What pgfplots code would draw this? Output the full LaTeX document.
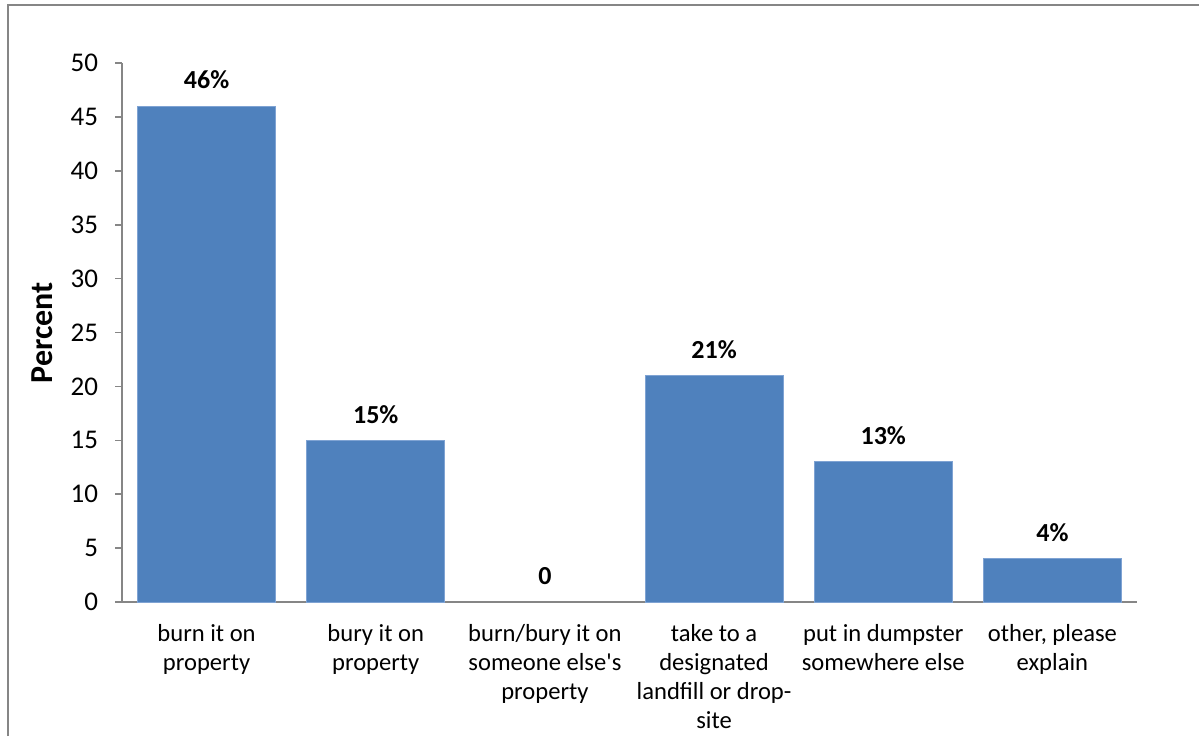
\documentclass[border=0pt]{standalone}
\usepackage{fontspec}
\setmainfont{Carlito}
\usepackage{pgfplots}
\pgfplotsset{compat=1.18}
\definecolor{barblue}{HTML}{4F81BD}
\definecolor{baredge}{HTML}{7FA3D3}
\definecolor{axgray}{HTML}{868686}
\begin{document}
\begin{tikzpicture}
\useasboundingbox (0,0) rectangle (599.5pt,368pt);
\draw[axgray,line width=0.9pt] (4pt,0) -- (4pt,365.5pt) -- (599.5pt,365.5pt);
\begin{axis}[
  at={(61pt,67pt)}, anchor=south west,
  scale only axis, width=507.5pt, height=269.5pt,
  xmin=-0.5, xmax=5.5, ymin=0, ymax=50,
  axis lines*=left,
  axis line style={axgray,line width=0.8pt},
  every tick/.style={axgray,line width=0.8pt},
  tick align=outside,
  major tick length=3.5pt,
  ytick={0,5,...,50},
  xtick={0,...,5},
  xticklabels={{burn it on\\property},{bury it on\\property},{burn/bury it on\\someone else\textquotesingle s\\property},{take to a\\designated\\landfill or drop-\\site},{put in dumpster\\somewhere else},{other, please\\explain}},
  x tick style={draw=none},
  minor xtick={-0.5,0.5,...,5.5},
  minor x tick style={axgray,line width=0.8pt},
  minor tick length=3.5pt,
  xticklabel style={align=center,font=\fontsize{12.3}{14.5}\selectfont,anchor=north,yshift=-4pt},
  yticklabel style={font=\fontsize{13.5}{15}\selectfont,xshift=-5pt},
  /pgf/number format/assume math mode=true,
  ylabel={Percent},
  ylabel style={at={(axis description cs:0,0.5)},anchor=center,yshift=40pt,font=\fontsize{16}{18}\selectfont\bfseries},
  ybar, bar width=0.816, bar shift=0pt,
  point meta=explicit symbolic,
  nodes near coords,
  every node near coord/.append style={anchor=center,yshift=13pt,font=\fontsize{13}{14.5}\selectfont\bfseries,text=black},
]
\addplot[fill=barblue,draw=baredge,line width=0.5pt] coordinates {
  (0,46) [46\%]
  (1,15) [15\%]
  (3,21) [21\%]
  (4,13) [13\%]
  (5,4) [4\%]
};
\addplot[fill=none,draw=none] coordinates {
  (2,0) [0]
};
\end{axis}
\end{tikzpicture}
\end{document}
